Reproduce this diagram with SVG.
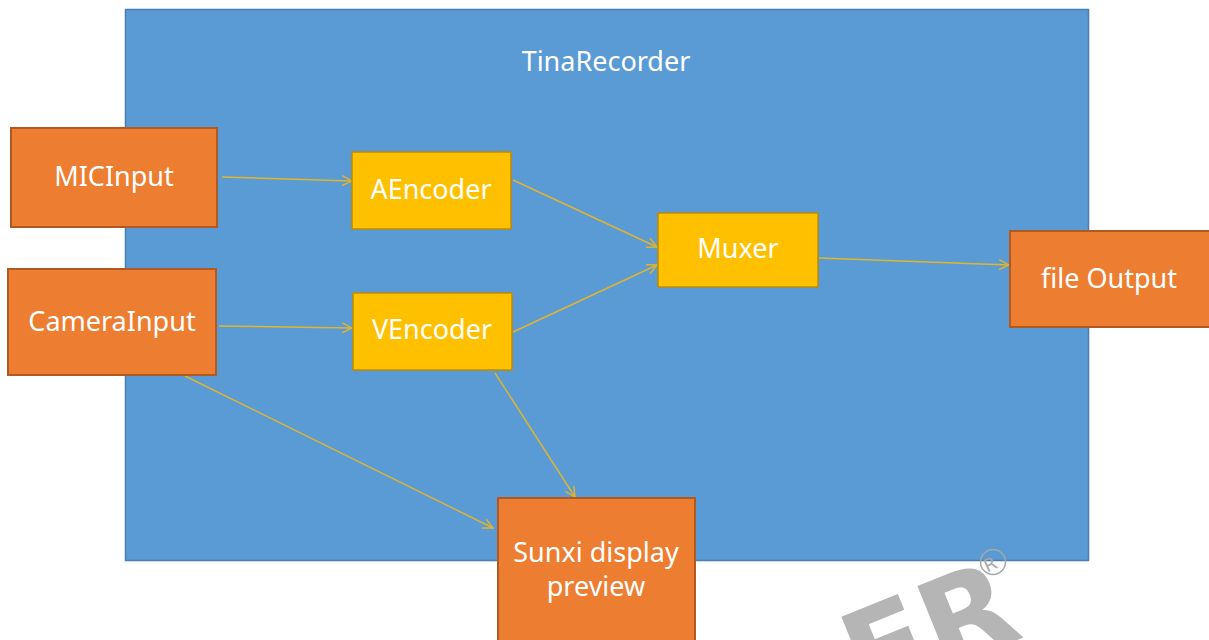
<svg xmlns="http://www.w3.org/2000/svg" width="1209" height="640" viewBox="0 0 1209 640">
<defs>
<style>
.lbl{font-family:"Noto Sans","Open Sans",sans-serif;font-size:27px;fill:#ffffff;text-anchor:middle}
.org{fill:#ed7d31;stroke:#ae5a21;stroke-width:2}
.yel{fill:#ffc000;stroke:#bc8c00;stroke-width:1.5}
.con{stroke:#e1b52b;stroke-width:1.4;fill:none;marker-end:url(#ah)}
</style>
<marker id="ah" viewBox="0 0 12 12" refX="11" refY="6" markerWidth="12" markerHeight="12" markerUnits="userSpaceOnUse" orient="auto">
<path d="M1,1 L11,6 L1,11" fill="none" stroke="#e1b52b" stroke-width="1.4"/>
</marker>
</defs>
<rect width="1209" height="640" fill="#ffffff"/>
<g id="tinarecorder">
<rect x="125.5" y="9.5" width="963" height="551" fill="#5b9bd5" stroke="#4a7eb0" stroke-width="1.5"/>
<text class="lbl" x="606" y="71">TinaRecorder</text>
</g>
<g id="connectors">
<line class="con" x1="222" y1="177" x2="352" y2="181"/>
<line class="con" x1="219" y1="326" x2="352" y2="328"/>
<line class="con" x1="513" y1="180" x2="657" y2="247"/>
<line class="con" x1="513" y1="332" x2="657" y2="265"/>
<line class="con" x1="819" y1="258" x2="1009" y2="265"/>
<line class="con" x1="185" y1="376" x2="493" y2="528"/>
<line class="con" x1="495" y1="373" x2="575" y2="497"/>
</g>
<g id="micinput">
<rect class="org" x="11" y="128" width="206" height="99"/>
<text class="lbl" x="114" y="186">MICInput</text>
</g>
<g id="camerainput">
<rect class="org" x="8" y="269" width="208" height="106"/>
<text class="lbl" x="112" y="331">CameraInput</text>
</g>
<g id="aencoder">
<rect class="yel" x="352" y="152" width="159" height="77"/>
<text class="lbl" x="431" y="199">AEncoder</text>
</g>
<g id="vencoder">
<rect class="yel" x="353" y="293" width="159" height="77"/>
<text class="lbl" x="432" y="339">VEncoder</text>
</g>
<g id="muxer">
<rect class="yel" x="658" y="213" width="160" height="74"/>
<text class="lbl" x="738" y="258">Muxer</text>
</g>
<g id="fileoutput">
<rect class="org" x="1010" y="231" width="200" height="96"/>
<text class="lbl" x="1109" y="288">file Output</text>
</g>
<g id="sunxi">
<rect class="org" x="498" y="498" width="197" height="150"/>
<text class="lbl" x="596" y="562">Sunxi display</text>
<text class="lbl" x="596" y="596">preview</text>
</g>
<g id="watermark" fill="#b5b5b5">
<text x="0" y="0" transform="translate(864,702) rotate(-22)" font-family="'DejaVu Sans',sans-serif" font-weight="bold" font-size="120">ER</text>
<circle cx="993" cy="562" r="12.5" fill="none" stroke="#a8a8a8" stroke-width="1.5"/>
<text x="0" y="0" transform="translate(993,570) rotate(-25)" font-family="'DejaVu Sans',sans-serif" font-size="18" text-anchor="middle" fill="#a8a8a8">R</text>
</g>
</svg>
